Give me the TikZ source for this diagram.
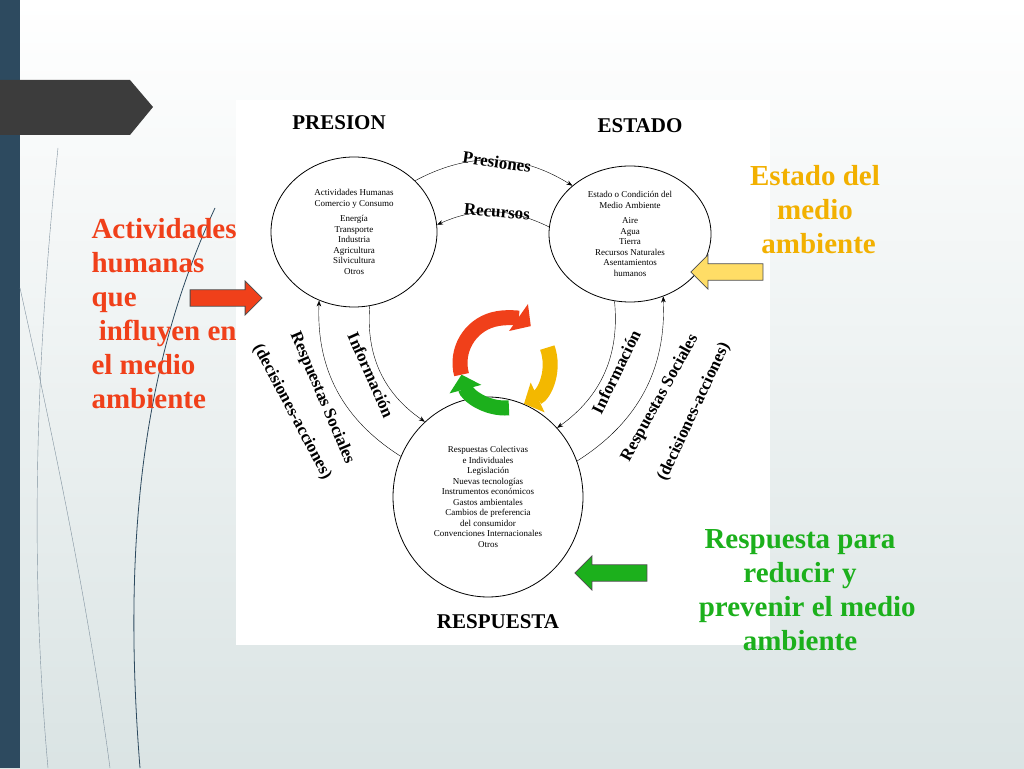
\documentclass[tikz,border=0pt]{standalone}
\usepackage{fontspec}
\setmainfont{Liberation Serif}
\usetikzlibrary{shapes.geometric,shapes.arrows,arrows.meta}
\definecolor{slate}{HTML}{2D4A5F}
\definecolor{tabgrey}{HTML}{3C3C3C}
\definecolor{redtxt}{HTML}{F0401A}
\definecolor{oratxt}{HTML}{F2B000}
\definecolor{gretxt}{HTML}{1CB01C}
\tikzset{
  ring/.style = {draw, ellipse, thick, inner sep=0pt, align=center, font=\fontsize{9}{10.5}\selectfont},
  title/.style = {font=\fontsize{21}{24}\selectfont\bfseries},
  arclab/.style = {font=\fontsize{17}{19}\selectfont\bfseries},
  link/.style = {thin, -{Stealth[length=6pt]}},
  cyc/.style = {line width=15pt, -{Triangle[length=15pt, width=32pt]}},
  bigarrow/.style = {single arrow, draw=black!70, thick, minimum height=72pt, minimum width=34pt, single arrow head extend=4pt},
  side/.style = {font=\fontsize{29}{34}\selectfont\bfseries}
}
\begin{document}
\begin{tikzpicture}[x=1pt, y=1pt]
\useasboundingbox (0,0) rectangle (1024,768);
\shade[top color=white, bottom color=cyan!15!gray!25] (0,0) rectangle (1024,768);
\fill[slate] (0,0) rectangle (20,768);
\fill[tabgrey] (0,688) -- (130,688) -- (153,661) -- (130,633) -- (0,633) -- cycle;
% thin curves on the left
\draw[slate!60, thin] (58,620) .. controls (35,400) and (30,200) .. (48,0);
\draw[slate!60, thin] (20,480) .. controls (60,300) and (90,150) .. (110,0);
\draw[slate, thick] (215,560) .. controls (150,420) and (120,250) .. (140,0);
\fill[white] (236,123) rectangle (770,668);

\node[title] (tpre) at (339,645) {PRESION};
\node[title] (test) at (640,642) {ESTADO};
\node[title] (tres) at (498,146) {RESPUESTA};

\node[ring, minimum width=166pt, minimum height=150pt] (pre) at (354,536)
  {Actividades Humanas\\Comercio y Consumo\\[5pt]Energía\\Transporte\\Industria\\Agricultura\\Silvicultura\\Otros};
\node[ring, minimum width=162pt, minimum height=136pt] (est) at (630,534)
  {Estado o Condición del\\Medio Ambiente\\[5pt]Aire\\Agua\\Tierra\\Recursos Naturales\\Asentamientos\\humanos};
\node[ring, minimum width=190pt, minimum height=200pt] (res) at (488,271)
  {Respuestas Colectivas\\e Individuales\\Legislación\\Nuevas tecnologías\\Instrumentos económicos\\Gastos ambientales\\Cambios de preferencia\\del consumidor\\Convenciones Internacionales\\Otros};

\draw[link] (pre.40) to[bend left=30] (est.140);
\draw[link] (est.175) to[bend right=25] (pre.5);
\draw[link] (res.155) to[bend left=30] (pre.243);
\draw[link] (pre.282) to[bend right=30] (res.130);
\draw[link] (est.257) to[bend left=30] (res.45);
\draw[link] (res.22) to[bend right=30] (est.298);

\node[arclab, rotate=-8] (lpres) at (497,606) {Presiones};
\node[arclab, rotate=-5] (lrec) at (497,556) {Recursos};
\node[arclab, rotate=-66] (linfl) at (371,393) {Información};
\node[arclab, rotate=-67] (lsocl) at (322,370) {Respuestas Sociales};
\node[arclab, rotate=-62] (ldecl) at (292,356) {(decisiones-acciones)};
\node[arclab, rotate=64] (linfr) at (616,396) {Información};
\node[arclab, rotate=61] (lsocr) at (660,370) {Respuestas Sociales};
\node[arclab, rotate=65] (ldecr) at (694,356) {(decisiones-acciones)};

% colour cycle
\coordinate (cc) at (505,405);
\draw[cyc, draw=redtxt] ([shift={(195:45)}]cc) arc[start angle=195, end angle=55, radius=45];
\draw[cyc, draw=oratxt!90!yellow] ([shift={(20:45)}]cc) arc[start angle=20, end angle=-65, radius=45];
\draw[cyc, draw=gretxt] ([shift={(-85:45)}]cc) arc[start angle=-85, end angle=-165, radius=45];

\node[bigarrow, fill=redtxt] (ared) at (222,470) {};
\node[bigarrow, fill=orange!45!yellow!60, shape border rotate=180] (aora) at (731,496) {};
\node[bigarrow, fill=gretxt, shape border rotate=180] (agre) at (615,195) {};

\node[side, text=redtxt, anchor=north west, align=left] (tact) at (88,553)
  {Actividades\\humanas\\que\\\ influyen en\\el medio\\ambiente};
\node[side, text=oratxt, anchor=north, align=center] (tedo) at (815,606)
  {Estado del\\medio\\\ ambiente};
\node[side, text=gretxt, anchor=north, align=center] (tresp) at (800,242)
  {Respuesta para\\reducir y\\\ \ prevenir el medio\\ambiente};
\end{tikzpicture}
\end{document}
